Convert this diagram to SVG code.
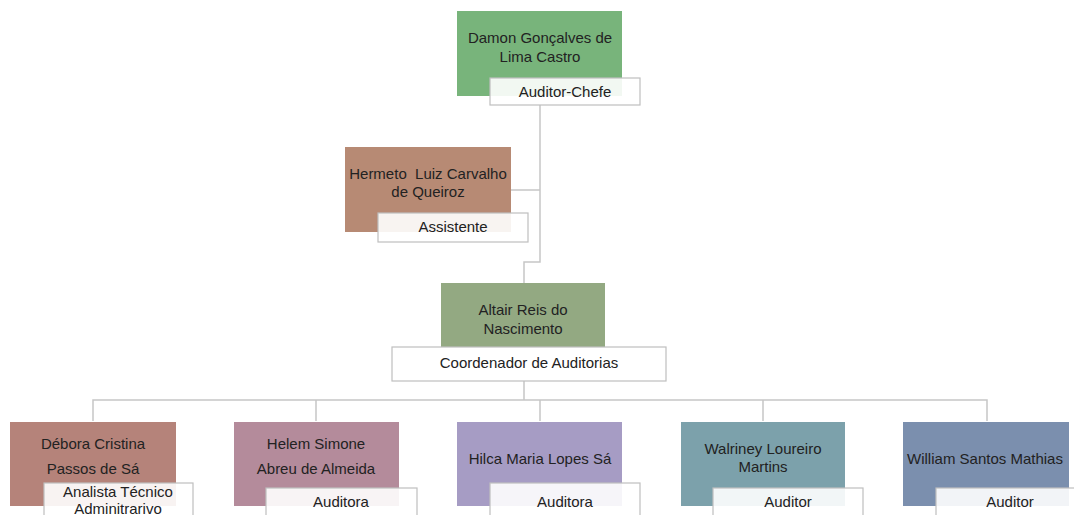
<svg xmlns="http://www.w3.org/2000/svg" width="1074" height="515" viewBox="0 0 1074 515">
<style>
text{font-family:"Liberation Sans",Arial,sans-serif;font-size:15px;fill:#222222;text-anchor:middle}
.lbl{fill:#ffffff;fill-opacity:0.9;stroke:#bfbfbf;stroke-width:1.2}
.conn{fill:none;stroke:#c6c6c6;stroke-width:1.5}
</style>
<rect width="1074" height="515" fill="#ffffff"/>
<g id="connectors" class="conn">
<path d="M540,105 V262 H524 V283"/>
<path d="M511,190 H540"/>
<path d="M524,381 V400"/>
<path d="M93,421 V400 H987 V421"/>
<path d="M316,400 V421"/>
<path d="M540,400 V421"/>
<path d="M763,400 V421"/>
</g>
<g id="damon">
<rect x="457" y="11" width="165" height="85" fill="#78b47b"/>
<text x="540" y="43">Damon Gonçalves de</text>
<text x="540" y="62">Lima Castro</text>
<rect class="lbl" x="490" y="78" width="150" height="27"/>
<text x="565" y="97">Auditor-Chefe</text>
</g>
<g id="hermeto">
<rect x="345" y="147" width="166" height="85" fill="#b78a74"/>
<text x="428" y="179" xml:space="preserve">Hermeto  Luiz Carvalho</text>
<text x="428" y="197">de Queiroz</text>
<rect class="lbl" x="378" y="213" width="150" height="29"/>
<text x="453" y="232">Assistente</text>
</g>
<g id="altair">
<rect x="441" y="283" width="164" height="66" fill="#93a982"/>
<text x="523" y="315">Altair Reis do</text>
<text x="523" y="334">Nascimento</text>
<rect class="lbl" x="392" y="347" width="274" height="34" style="fill-opacity:1"/>
<text x="529" y="368">Coordenador de Auditorias</text>
</g>
<g id="debora">
<rect x="10" y="422" width="166" height="84" fill="#b5837a"/>
<text x="93" y="449">Débora Cristina</text>
<text x="93" y="474">Passos de Sá</text>
<rect class="lbl" x="44" y="483" width="149" height="50"/>
<text x="118" y="497">Analista Técnico</text>
<text x="118" y="514">Adminitrarivo</text>
</g>
<g id="helem">
<rect x="234" y="422" width="165" height="84" fill="#b48b9b"/>
<text x="316" y="449">Helem Simone</text>
<text x="316" y="474">Abreu de Almeida</text>
<rect class="lbl" x="266" y="488" width="151" height="40"/>
<text x="341" y="507">Auditora</text>
</g>
<g id="hilca">
<rect x="457" y="422" width="165" height="84" fill="#a69cc4"/>
<text x="540" y="464">Hilca Maria Lopes Sá</text>
<rect class="lbl" x="490" y="483" width="150" height="45"/>
<text x="565" y="507">Auditora</text>
</g>
<g id="walriney">
<rect x="681" y="422" width="164" height="84" fill="#7ca1ab"/>
<text x="763" y="454">Walriney Loureiro</text>
<text x="763" y="472">Martins</text>
<rect class="lbl" x="713" y="488" width="150" height="40"/>
<text x="788" y="507">Auditor</text>
</g>
<g id="william">
<rect x="903" y="422" width="166" height="84" fill="#7b8fae"/>
<text x="985" y="464">William Santos Mathias</text>
<rect class="lbl" x="936" y="488" width="150" height="40"/>
<text x="1010" y="507">Auditor</text>
</g>
</svg>
